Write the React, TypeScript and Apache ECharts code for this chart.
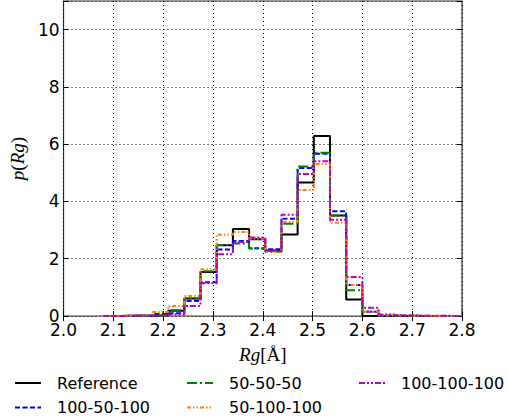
import React, { useEffect, useRef } from "react";
import * as echarts from "echarts";

const binEdges = [2.08, 2.1125, 2.145, 2.1775, 2.21, 2.2425, 2.275, 2.3075, 2.34, 2.3725, 2.405, 2.4375, 2.47, 2.5025, 2.535, 2.5675, 2.6, 2.6325, 2.665, 2.6975, 2.73, 2.7625, 2.795];

const seriesNames = ["Reference", "100-50-100", "50-50-50", "50-100-100", "100-100-100"];

const refValues = [0, 0.01, 0.01, 0.03, 0.18, 0.61, 1.54, 2.47, 3.04, 2.68, 2.29, 2.85, 4.66, 6.29, 3.51, 0.58, 0, 0, 0, 0, 0, 0];
const v100_50_100 = [0, 0.01, 0.02, 0.07, 0.1, 0.52, 1.18, 2.32, 2.62, 2.37, 2.33, 3.4, 5.17, 5.67, 3.66, 1.08, 0.15, 0.02, 0.01, 0, 0, 0];
const v50_50_50 = [0, 0.01, 0.01, 0.03, 0.2, 0.61, 1.56, 2.48, 2.53, 2.36, 2.24, 3.22, 5.22, 5.7, 3.51, 0.9, 0.15, 0.02, 0.01, 0, 0, 0];
const v50_100_100 = [0.01, 0.01, 0.03, 0.14, 0.35, 0.7, 1.63, 2.84, 2.93, 2.7, 2.24, 3.28, 4.4, 5.31, 3.26, 1.08, 0.15, 0.03, 0.01, 0.01, 0, 0];
const v100_100_100 = [0, 0.01, 0.02, 0.02, 0.05, 0.35, 1.14, 2.16, 2.58, 2.74, 2.27, 3.54, 4.96, 5.4, 3.36, 1.36, 0.29, 0.05, 0.02, 0.01, 0.01, 0];

const allValues = [refValues, v100_50_100, v50_50_50, v50_100_100, v100_100_100];
const colors = ["#000000", "#0000ff", "#008000", "#ff7f0e", "#bf00bf"];
const dashes: any[] = ["solid", [5, 2.5], [10, 3, 2, 3], [4, 2, 1.5, 2, 1.5, 2], [6, 2, 2, 2, 2, 2]];

const xTicks = [2.0, 2.1, 2.2, 2.3, 2.4, 2.5, 2.6, 2.7, 2.8];
const yTicks = [0, 2, 4, 6, 8, 10];

function stepData(vals: number[]) {
  const pts: number[][] = [[binEdges[0], 0]];
  for (let k = 0; k < vals.length; k++) pts.push([binEdges[k], vals[k]]);
  pts.push([binEdges[vals.length], vals[vals.length - 1]]);
  pts.push([binEdges[vals.length], 0]);
  return pts;
}

export default function App() {
  const ref = useRef<HTMLDivElement>(null);
  useEffect(() => {
    const chart = echarts.init(ref.current!, null, { renderer: "svg" });
    const font = "DejaVu Sans";
    const tickStyle = { show: true, inside: true, length: 5, lineStyle: { color: "#000", width: 1 } };
    const legendBase = {
      orient: "vertical",
      itemWidth: 26,
      itemHeight: 12,
      itemGap: 8.4,
      padding: 0,
      top: 375,
      itemStyle: { opacity: 0, borderWidth: 0 },
      textStyle: { fontFamily: font, fontSize: 16, color: "#000", lineHeight: 16, padding: [0, 0, 0, 11] },
    };
    chart.setOption({
      animation: false,
      grid: { left: 53, right: 46, top: 1, bottom: 102, show: true, borderColor: "#333", borderWidth: 1.2, backgroundColor: "transparent" },
      legend: [
        { ...legendBase, left: 14, data: [seriesNames[0], seriesNames[1]] },
        { ...legendBase, left: 186, data: [seriesNames[2], seriesNames[3]] },
        { ...legendBase, left: 358, data: [seriesNames[4]] },
      ],
      xAxis: [
        {
          type: "value",
          min: xTicks[0],
          max: xTicks[xTicks.length - 1],
          interval: 0.1,
          name: "{i|Rg}{n|[Å]}",
          nameLocation: "middle",
          nameGap: 29,
          nameTextStyle: {
            rich: {
              i: { fontFamily: "Liberation Serif", fontStyle: "italic", fontSize: 19, color: "#000" },
              n: { fontFamily: "Liberation Serif", fontSize: 19, color: "#000" },
            },
          },
          axisLine: { show: false },
          axisTick: tickStyle,
          axisLabel: { fontFamily: font, fontSize: 17, color: "#000", margin: 5, formatter: (v: number) => v.toFixed(1) },
          splitLine: { show: true, lineStyle: { color: "#000", type: [1, 3], width: 1 } },
        },
        {
          type: "value",
          position: "top",
          min: xTicks[0],
          max: xTicks[xTicks.length - 1],
          interval: 0.1,
          axisLine: { show: false },
          axisTick: tickStyle,
          axisLabel: { show: false },
          splitLine: { show: false },
        },
      ],
      yAxis: [
        {
          type: "value",
          min: 0,
          max: 11,
          interval: 2,
          name: "{i|p}{n|(}{i|Rg}{n|)}",
          nameLocation: "middle",
          nameGap: 26,
          nameRotate: 90,
          nameTextStyle: {
            rich: {
              i: { fontFamily: "Liberation Serif", fontStyle: "italic", fontSize: 19, color: "#000" },
              n: { fontFamily: "Liberation Serif", fontSize: 19, color: "#000" },
            },
          },
          axisLine: { show: false },
          axisTick: tickStyle,
          axisLabel: {
            fontFamily: font,
            fontSize: 17,
            color: "#000",
            margin: 4,
            formatter: (v: number) => (yTicks.indexOf(v) >= 0 ? String(v) : ""),
          },
          splitLine: { show: true, lineStyle: { color: "#000", type: [1, 3], width: 1 } },
        },
        {
          type: "value",
          position: "right",
          min: 0,
          max: 11,
          interval: 2,
          axisLine: { show: false },
          axisTick: tickStyle,
          axisLabel: { show: false },
          splitLine: { show: false },
        },
      ],
      series: allValues.map((vals, i) => ({
        name: seriesNames[i],
        type: "line",
        step: "end",
        symbol: "none",
        data: stepData(vals),
        lineStyle: { color: colors[i], width: 2, type: dashes[i] },
        itemStyle: { color: colors[i] },
        z: 2 + i,
      })),
    });
    return () => chart.dispose();
  }, []);
  return <div ref={ref} style={{ width: 508, height: 418, position: "absolute", left: 0, top: 0 }} />;
}
